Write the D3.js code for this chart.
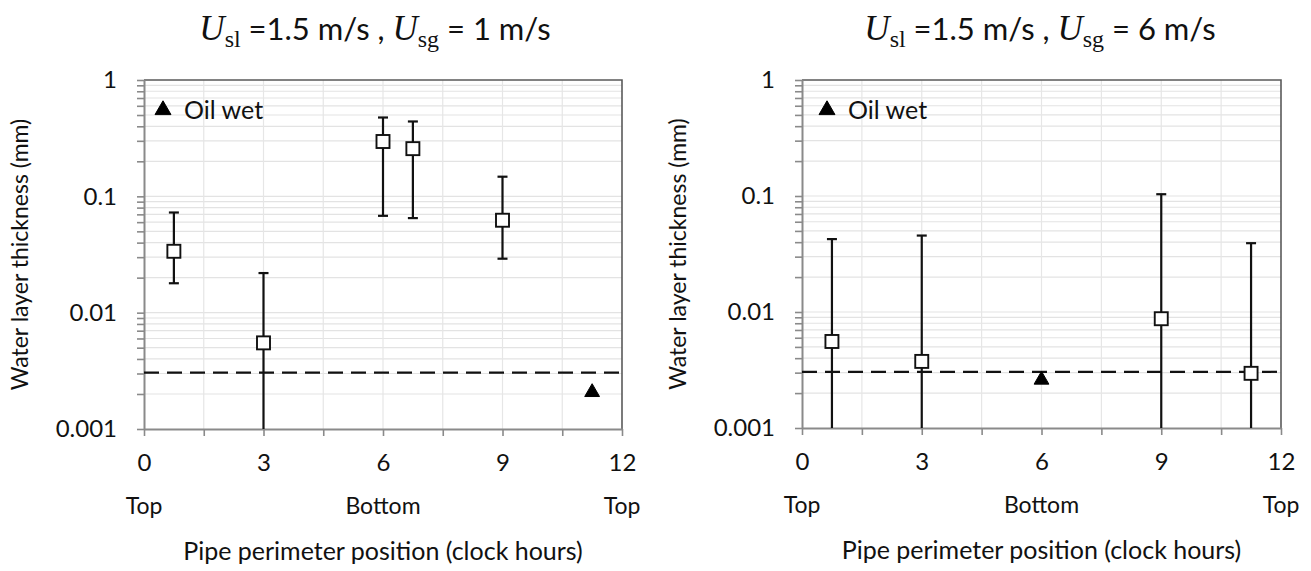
<!DOCTYPE html>
<html>
<head>
<meta charset="utf-8">
<script src="https://cdn.jsdelivr.net/npm/d3@7"></script>
<style>
  body { margin: 0; background: #fff; }
  svg { display: block; }
  text { font-family: Lato, "Open Sans", sans-serif; fill: #111; }
</style>
</head>
<body>
<svg width="1311" height="571"></svg>
<script>
// tick labels and annotations
const hourTicks = [0, 3, 6, 9, 12];
const positionHours = [0, 6, 12];
const positionNames = ["Top", "Bottom", "Top"];
const thicknessTicks = [0.001, 0.01, 0.1, 1];
const thicknessLabels = ["0.001", "0.01", "0.1", "1"];
const detectionLimit = 0.00305; // dashed line

// Usl = 1.5 m/s, Usg = 1 m/s
const usg1Hours = [0.75, 3, 6, 6.75, 9];
const usg1Thickness = [0.0337, 0.0055, 0.296, 0.257, 0.0623];
const usg1Low = [0.0179, 0.001, 0.068, 0.065, 0.0291];
const usg1High = [0.0726, 0.0219, 0.476, 0.44, 0.1475];
const usg1OilHours = [11.25];
const usg1OilThickness = [0.00207];

// Usl = 1.5 m/s, Usg = 6 m/s
const usg6Hours = [0.75, 3, 9, 11.25];
const usg6Thickness = [0.00557, 0.00375, 0.00875, 0.00296];
const usg6Low = [0.001, 0.001, 0.001, 0.001];
const usg6High = [0.0425, 0.0456, 0.1036, 0.0392];
const usg6OilHours = [6];
const usg6OilThickness = [0.0026];

const svg = d3.select("svg");

const panels = [
  { left: 144, right: 622, top: 80, bottom: 429, usg: "1", legendDx: 19, titleX: 375,
    hours: usg1Hours, vals: usg1Thickness, lo: usg1Low, hi: usg1High,
    oilHours: usg1OilHours, oilVals: usg1OilThickness },
  { left: 802, right: 1281, top: 80, bottom: 428, usg: "6", legendDx: 25, titleX: 1040,
    hours: usg6Hours, vals: usg6Thickness, lo: usg6Low, hi: usg6High,
    oilHours: usg6OilHours, oilVals: usg6OilThickness }
];

panels.forEach(p => drawPanel(p));

function drawPanel(p) {
  const g = svg.append("g");

  const x = d3.scaleLinear().domain([0, 12]).range([p.left, p.right]);
  const y = d3.scaleLog().domain([0.001, 1]).range([p.bottom, p.top]);

  const minorHours = d3.range(0, 12.001, 1.5);
  const logTicks = y.ticks();

  // gridlines
  g.append("g").selectAll("line")
    .data(logTicks.filter(d => d > 0.001 && d < 1))
    .join("line")
    .attr("x1", p.left).attr("x2", p.right)
    .attr("y1", d => y(d)).attr("y2", d => y(d))
    .attr("stroke", "#e3e3e3").attr("stroke-width", 1.2);

  g.append("g").selectAll("line")
    .data(minorHours.filter(d => d > 0 && d < 12))
    .join("line")
    .attr("x1", d => x(d)).attr("x2", d => x(d))
    .attr("y1", p.top).attr("y2", p.bottom)
    .attr("stroke", "#e6e6e6").attr("stroke-width", 1.2);

  // top and right border
  g.append("path")
    .attr("d", `M${p.left},${p.top}H${p.right}V${p.bottom}`)
    .attr("fill", "none").attr("stroke", "#5a5a5a").attr("stroke-width", 1.6);

  // axes
  const yAxis = d3.axisLeft(y)
    .tickValues(logTicks)
    .tickSize(7).tickSizeOuter(0).tickPadding(20)
    .tickFormat(d => {
      const k = thicknessTicks.findIndex(t => Math.abs(t - d) < d * 1e-6);
      return k >= 0 ? thicknessLabels[k] : "";
    });
  const gy = g.append("g").attr("transform", `translate(${p.left},0)`).call(yAxis);

  const xAxis = d3.axisBottom(x)
    .tickValues(minorHours)
    .tickSize(7).tickSizeOuter(0).tickPadding(18)
    .tickFormat(d => hourTicks.includes(d) ? d : "");
  const gx = g.append("g").attr("transform", `translate(0,${p.bottom})`).call(xAxis);

  [gx, gy].forEach(a => {
    a.select(".domain").attr("stroke", "#8a8a8a").attr("stroke-width", 2);
    a.selectAll(".tick line").attr("stroke", "#8a8a8a").attr("stroke-width", 1.6);
    a.selectAll(".tick text").style("font-family", "Lato, 'Open Sans', sans-serif")
      .style("font-size", "24px").attr("fill", "#111");
  });

  // position names under the axis
  g.append("g").selectAll("text")
    .data(positionHours)
    .join("text")
    .attr("x", d => x(d))
    .attr("y", p.bottom + 85)
    .attr("text-anchor", "middle")
    .style("font-size", "23px")
    .text((d, k) => positionNames[k]);

  // axis titles
  g.append("text")
    .attr("x", (p.left + p.right) / 2)
    .attr("y", p.bottom + 131)
    .attr("text-anchor", "middle")
    .style("font-size", "25px")
    .text("Pipe perimeter position (clock hours)");

  g.append("text")
    .attr("transform", `translate(${p.left - 116},${(p.top + p.bottom) / 2}) rotate(-90)`)
    .attr("text-anchor", "middle")
    .style("font-size", "23px")
    .text("Water layer thickness (mm)");

  // chart title with subscripts
  const title = g.append("text")
    .attr("x", p.titleX)
    .attr("y", 40)
    .attr("text-anchor", "middle")
    .style("font-size", "31px");
  title.append("tspan").style("font-family", "'Liberation Serif', serif")
    .style("font-style", "italic").style("font-size", "35px").text("U");
  title.append("tspan").style("font-family", "'Liberation Serif', serif")
    .style("font-size", "24px").attr("dy", 7).text("sl");
  title.append("tspan").attr("dy", -7).text(" =1.5 m/s , ");
  title.append("tspan").style("font-family", "'Liberation Serif', serif")
    .style("font-style", "italic").style("font-size", "35px").text("U");
  title.append("tspan").style("font-family", "'Liberation Serif', serif")
    .style("font-size", "24px").attr("dy", 7).text("sg");
  title.append("tspan").attr("dy", -7).text(` = ${p.usg} m/s`);

  // dashed detection line
  g.append("line")
    .attr("x1", p.left).attr("x2", p.right)
    .attr("y1", y(detectionLimit)).attr("y2", y(detectionLimit))
    .attr("stroke", "#111").attr("stroke-width", 2.2)
    .attr("stroke-dasharray", "15,8");

  // error bars
  const pts = p.hours.map((h, k) => ({ h, v: p.vals[k], lo: p.lo[k], hi: p.hi[k] }));
  const bars = g.append("g").attr("stroke", "#111").attr("stroke-width", 2.2);
  bars.selectAll("line.stem").data(pts).join("line").attr("class", "stem")
    .attr("x1", d => x(d.h)).attr("x2", d => x(d.h))
    .attr("y1", d => y(d.lo)).attr("y2", d => y(d.hi));
  bars.selectAll("line.capHi").data(pts).join("line").attr("class", "capHi")
    .attr("x1", d => x(d.h) - 5).attr("x2", d => x(d.h) + 5)
    .attr("y1", d => y(d.hi)).attr("y2", d => y(d.hi));
  bars.selectAll("line.capLo").data(pts.filter(d => d.lo > y.domain()[0])).join("line").attr("class", "capLo")
    .attr("x1", d => x(d.h) - 5).attr("x2", d => x(d.h) + 5)
    .attr("y1", d => y(d.lo)).attr("y2", d => y(d.lo));

  // squares
  g.append("g").selectAll("rect").data(pts).join("rect")
    .attr("x", d => x(d.h) - 6.5).attr("y", d => y(d.v) - 6.5)
    .attr("width", 13).attr("height", 13)
    .attr("fill", "#fff").attr("stroke", "#111").attr("stroke-width", 1.9);

  // oil wet triangles
  const tri = d3.symbol(d3.symbolTriangle).size(95);
  g.append("g").selectAll("path").data(p.oilHours.map((h, k) => ({ h, v: p.oilVals[k] })))
    .join("path")
    .attr("transform", d => `translate(${x(d.h)},${y(d.v)})`)
    .attr("d", tri).attr("fill", "#000")
    .attr("stroke", "#000").attr("stroke-width", 1).attr("stroke-linejoin", "round");

  // legend
  g.append("path")
    .attr("transform", `translate(${p.left + p.legendDx},${p.top + 30})`)
    .attr("d", d3.symbol(d3.symbolTriangle).size(110)).attr("fill", "#000")
    .attr("stroke", "#000").attr("stroke-width", 1).attr("stroke-linejoin", "round");
  g.append("text")
    .attr("x", p.left + p.legendDx + 21)
    .attr("y", p.top + 39)
    .style("font-size", "25px")
    .text("Oil wet");
}
</script>
</body>
</html>
